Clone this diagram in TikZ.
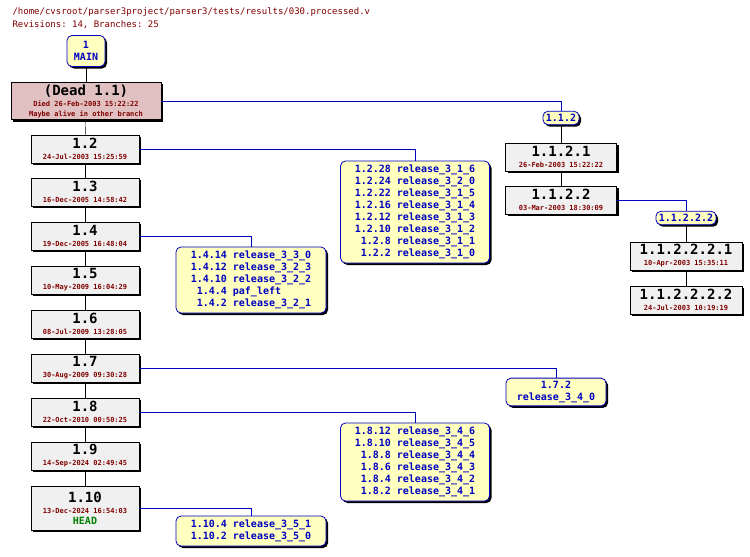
\documentclass[tikz,border=0pt]{standalone}
\usepackage{fontspec}
\setmonofont{DejaVu Sans Mono}
\usetikzlibrary{shadows}
\definecolor{darkred}{HTML}{800000}
\definecolor{revfill}{HTML}{F0F0F0}
\definecolor{deadfill}{HTML}{E0C0C0}
\definecolor{tagfill}{HTML}{FFFFC0}
\definecolor{tagblue}{HTML}{0000C0}
\newcommand*{\revlabel}[2]{{\fontsize{14}{15}\selectfont #1}\\[-1pt]{\fontsize{7}{8}\selectfont\color{darkred}#2}}
\begin{document}
\begin{tikzpicture}[x=1pt, y=-1pt, font=\ttfamily\bfseries,
    shadowed/.style={drop shadow={shadow xshift=2pt, shadow yshift=-2pt, fill=black, opacity=1}},
    rev/.style={draw, thick, fill=revfill, shadowed, align=center, inner sep=2pt, minimum height=28pt},
    dead/.style={rev, fill=deadfill},
    tag/.style={draw=tagblue, thick, fill=tagfill, rounded corners=5pt, shadowed, text=tagblue,
        align=center, inner sep=3pt, font=\ttfamily\bfseries\fontsize{10}{12}\selectfont},
    trunk/.style={thin},
    branch/.style={tagblue, thin}]
    \useasboundingbox (0,0) rectangle (750,557);

    \node[anchor=west, darkred, font=\ttfamily\fontsize{9}{10}\selectfont] (path) at (9,12) {/home/cvsroot/parser3project/parser3/tests/results/030.processed.v};
    \node[anchor=west, darkred, font=\ttfamily\fontsize{9}{10}\selectfont] (stats) at (9,25) {Revisions: 14, Branches: 25};

    % trunk
    \node[tag, minimum width=38pt, minimum height=31pt] (main) at (86,51) {1\\MAIN};
    \node[dead, minimum width=150pt, minimum height=36pt] (r11) at (86,101)
        {{\fontsize{14}{15}\selectfont (Dead 1.1)}\\[-1pt]{\fontsize{7}{8}\selectfont\color{darkred}Died 26-Feb-2003 15:22:22}\\[-2pt]{\fontsize{7}{8}\selectfont\color{darkred}Maybe alive in other branch}};
    \node[rev, minimum width=108pt] (r12) at (85,149) {\revlabel{1.2}{24-Jul-2003 15:25:59}};
    \node[rev, minimum width=108pt] (r13) at (85,192) {\revlabel{1.3}{16-Dec-2005 14:58:42}};
    \node[rev, minimum width=108pt] (r14) at (85,236) {\revlabel{1.4}{19-Dec-2005 16:48:04}};
    \node[rev, minimum width=108pt] (r15) at (85,280) {\revlabel{1.5}{10-May-2009 16:04:29}};
    \node[rev, minimum width=108pt] (r16) at (85,324) {\revlabel{1.6}{08-Jul-2009 13:28:05}};
    \node[rev, minimum width=108pt] (r17) at (85,368) {\revlabel{1.7}{30-Aug-2009 09:30:28}};
    \node[rev, minimum width=108pt] (r18) at (85,412) {\revlabel{1.8}{22-Oct-2010 00:50:25}};
    \node[rev, minimum width=108pt] (r19) at (85,456) {\revlabel{1.9}{14-Sep-2024 02:49:45}};
    \node[rev, minimum width=108pt, minimum height=44pt] (r110) at (85,508)
        {\revlabel{1.10}{13-Dec-2024 16:54:03}\\[-1pt]{\fontsize{10}{11}\selectfont\color{green!50!black}HEAD}};
    \foreach \a/\b in {main/r11, r11/r12, r12/r13, r13/r14, r14/r15, r15/r16, r16/r17, r17/r18, r18/r19, r19/r110}
        \draw[trunk] (\a) -- (\b);

    % branch 1.1.2
    \node[tag] (b112) at (561,118) {1.1.2};
    \node[rev, minimum width=111pt] (r1121) at (561,157) {\revlabel{1.1.2.1}{26-Feb-2003 15:22:22}};
    \node[rev, minimum width=111pt] (r1122) at (561,200) {\revlabel{1.1.2.2}{03-Mar-2003 18:30:09}};
    \node[tag] (b11222) at (686,218) {1.1.2.2.2};
    \node[rev, minimum width=112pt] (r112221) at (686,256) {\revlabel{1.1.2.2.2.1}{10-Apr-2003 15:35:11}};
    \node[rev, minimum width=112pt] (r112222) at (686,300) {\revlabel{1.1.2.2.2.2}{24-Jul-2003 10:19:19}};
    \draw[branch] (r11.east) -| (b112);
    \draw[trunk] (b112) -- (r1121);
    \draw[trunk] (r1121) -- (r1122);
    \draw[branch] (r1122.east) -| (b11222);
    \draw[trunk] (b11222) -- (r112221);
    \draw[trunk] (r112221) -- (r112222);

    % tagged branches
    \node[tag, minimum width=149pt] (b12) at (415,212) {\begin{tabular}{@{}r@{ }l@{}}
        1.2.28 & release\_3\_1\_6\\ 1.2.24 & release\_3\_2\_0\\ 1.2.22 & release\_3\_1\_5\\
        1.2.16 & release\_3\_1\_4\\ 1.2.12 & release\_3\_1\_3\\ 1.2.10 & release\_3\_1\_2\\
        1.2.8 & release\_3\_1\_1\\ 1.2.2 & release\_3\_1\_0\end{tabular}};
    \node[tag, minimum width=150pt] (b14) at (251,280) {\begin{tabular}{@{}r@{ }l@{}}
        1.4.14 & release\_3\_3\_0\\ 1.4.12 & release\_3\_2\_3\\ 1.4.10 & release\_3\_2\_2\\
        1.4.4 & paf\_left\\ 1.4.2 & release\_3\_2\_1\end{tabular}};
    \node[tag, minimum width=100pt] (b172) at (556,392) {1.7.2\\release\_3\_4\_0};
    \node[tag, minimum width=149pt] (b18) at (415,462) {\begin{tabular}{@{}r@{ }l@{}}
        1.8.12 & release\_3\_4\_6\\ 1.8.10 & release\_3\_4\_5\\ 1.8.8 & release\_3\_4\_4\\
        1.8.6 & release\_3\_4\_3\\ 1.8.4 & release\_3\_4\_2\\ 1.8.2 & release\_3\_4\_1\end{tabular}};
    \node[tag, minimum width=150pt] (b110) at (251,531) {\begin{tabular}{@{}r@{ }l@{}}
        1.10.4 & release\_3\_5\_1\\ 1.10.2 & release\_3\_5\_0\end{tabular}};
    \draw[branch] (r12.east) -| (b12);
    \draw[branch] (r14.east) -| (b14);
    \draw[branch] (r17.east) -| (b172);
    \draw[branch] (r18.east) -| (b18);
    \draw[branch] (r110.east) -| (b110);
\end{tikzpicture}
\end{document}
